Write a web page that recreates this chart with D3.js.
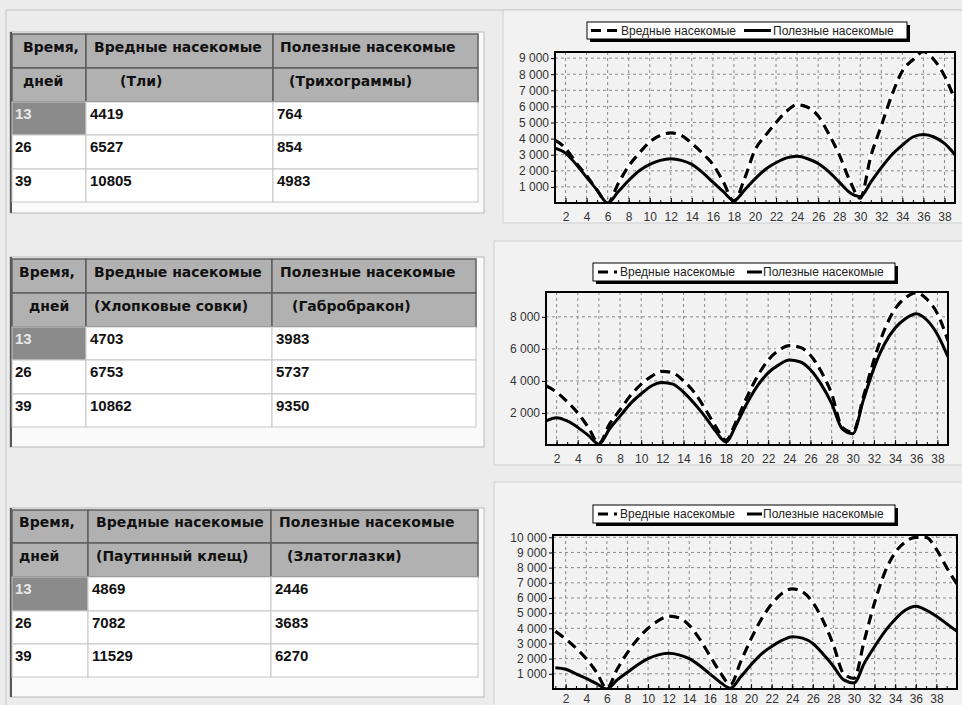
<!DOCTYPE html>
<html>
<head>
<meta charset="utf-8">
<script src="https://cdn.jsdelivr.net/npm/d3@7"></script>
<style>
  body { margin: 0; background: #ececec; }
  svg { display: block; font-family: "Liberation Sans", Arial, sans-serif; }
</style>
</head>
<body>
<div id="svgcontainer"></div>
<script>
// ---- data ----
var days = [1,2,3,4,5,6,7,8,9,10,11,12,13,14,15,16,17,18,19,20,
            21,22,23,24,25,26,27,28,29,30,31,32,33,34,35,36,37,38,39];
var days3 = [1,2,3,4,5,6,7,8,9,10,11,12,13,14,15,16,17,18,19,20,
             21,22,23,24,25,26,27,28,29,30,31,32,33,34,35,36,37,38,39,40];
var xLabels = [2,4,6,8,10,12,14,16,18,20,22,24,26,28,30,32,34,36,38];

var legendNames = ["Вредные насекомые", "Полезные насекомые"];

// chart 1: Тли / Трихограммы
var harm1 = [3900,3400,2500,1700,800,0, 1200,2300,3100,3800,4200,4350,
             4200,3700,3100,2400,1300,100, 1500,3300,4200,5000,5700,6100,
             5950,5400,4300,3000,1400,300, 2900,4800,6700,8200,8900,9400,
             8900,7900,6400];
var ben1  = [3400,3100,2400,1600,800,0, 700,1400,2000,2400,2650,2750,
             2650,2400,1900,1300,700,150, 800,1500,2100,2500,2800,2900,
             2750,2450,1950,1300,650,400, 1300,2200,3000,3600,4100,4250,
             4100,3700,3000];
var yTicks1 = [1000,2000,3000,4000,5000,6000,7000,8000,9000];

// chart 2: Хлопковые совки / Габробракон
var harm2 = [3700,3300,2700,2000,1100,100, 1300,2200,3100,3800,4300,4600,
             4500,4000,3300,2300,1200,300, 1500,3000,4300,5300,5900,6200,
             6100,5600,4600,3200,1100,800, 3000,5300,7200,8500,9200,9500,
             9100,8200,6500];
var ben2  = [1500,1700,1500,1100,600,50, 1000,1800,2600,3200,3700,3900,
             3800,3300,2600,1800,900,200, 1300,2600,3700,4500,5000,5300,
             5200,4700,3800,2600,1000,700, 2800,4800,6300,7300,7900,8200,
             7800,6900,5500];
var yTicks2 = [2000,4000,6000,8000];

// chart 3: Паутинный клещ / Златоглазки
var harm3 = [3800,3300,2700,2000,1100,50, 1300,2400,3300,4000,4500,4800,
             4700,4200,3300,2200,1100,300, 1800,3300,4600,5600,6300,6600,
             6400,5700,4500,2900,1000,700, 3200,5700,7700,9000,9700,10000,
             10000,9200,8000,6900];
var ben3  = [1400,1300,1000,700,350,0, 600,1100,1600,2000,2250,2350,
             2250,2000,1550,1000,450,50, 800,1600,2300,2800,3200,3450,
             3350,3000,2300,1500,600,400, 1700,2800,3800,4600,5200,5450,
             5200,4800,4300,3800];
var yTicks3 = [1000,2000,3000,4000,5000,6000,7000,8000,9000,10000];

// tables
var headTop = ["Время,", "Вредные насекомые", "Полезные насекомые"];
var headSub1 = ["дней", "(Тли)", "(Трихограммы)"];
var headSub2 = ["дней", "(Хлопковые совки)", "(Габробракон)"];
var headSub3 = ["дней", "(Паутинный клещ)", "(Златоглазки)"];
var tableDays = [13, 26, 39];
var tHarm1 = [4419, 6527, 10805], tBen1 = [764, 854, 4983];
var tHarm2 = [4703, 6753, 10862], tBen2 = [3983, 5737, 9350];
var tHarm3 = [4869, 7082, 11529], tBen3 = [2446, 3683, 6270];

// ---- drawing ----
var width = 962, height = 705;
var svg = d3.select("#svgcontainer")
    .append("svg")
    .attr("width", width)
    .attr("height", height);

var ru = d3.formatLocale({decimal: ",", thousands: " ", grouping: [3], currency: ["", ""]});
var fmt = ru.format(",d");

// window frame
svg.append("rect").attr("x", 0).attr("y", 0).attr("width", width).attr("height", height)
  .style("fill", "#ececec");
svg.append("line").attr("x1", 6).attr("y1", 10).attr("x2", width).attr("y2", 10)
  .style("stroke", "#c4c4c4");
svg.append("line").attr("x1", 6).attr("y1", 10).attr("x2", 6).attr("y2", height)
  .style("stroke", "#c4c4c4");

function drawTable(head, sub, vals, L) {
  var g = svg.append("g");
  var c = L.cols, r = L.rows;
  // frame
  g.append("rect")
    .attr("x", c[0] - 2).attr("y", r[0] - 2)
    .attr("width", L.right - c[0] + 2).attr("height", L.bottom - r[0] + 2)
    .style("fill", "#fafafa").style("stroke", "#b8b8b8");
  g.append("line")
    .attr("x1", c[0] - 1).attr("y1", r[0] - 2).attr("x2", c[0] - 1).attr("y2", L.bottom)
    .style("stroke", "#555").style("stroke-width", 2);

  // header cells
  [0, 1].forEach(function(ri) {
    for (var ci = 0; ci < 3; ci++) {
      g.append("rect")
        .attr("x", c[ci]).attr("y", r[ri])
        .attr("width", c[ci + 1] - c[ci]).attr("height", r[ri + 1] - r[ri])
        .style("fill", "#b1b1b1").style("stroke", "#5f5f5f").style("stroke-width", 1.5);
    }
  });
  var hx = L.headX;
  [head, sub].forEach(function(row, ri) {
    row.forEach(function(t, ci) {
      g.append("text")
        .attr("x", hx[ri][ci]).attr("y", L.headY[ri])
        .style("font-family", "'DejaVu Sans', sans-serif")
        .style("font-weight", "bold").style("font-size", "14px")
        .style("fill", "#111")
        .text(t);
    });
  });

  // data cells
  for (var ri = 0; ri < 3; ri++) {
    for (var ci = 0; ci < 3; ci++) {
      var dark = (ri === 0 && ci === 0);
      g.append("rect")
        .attr("x", c[ci]).attr("y", r[ri + 2])
        .attr("width", c[ci + 1] - c[ci]).attr("height", r[ri + 3] - r[ri + 2])
        .style("fill", dark ? "#8b8b8b" : "#ffffff")
        .style("stroke", "#c6c6c6");
      g.append("text")
        .attr("x", c[ci] + (ci === 0 ? 3 : 4)).attr("y", r[ri + 2] + 17)
        .style("font-weight", "bold").style("font-size", "15px")
        .style("fill", dark ? "#e8e8e8" : "#111")
        .text(vals[ci][ri]);
    }
  }
}

drawTable(headTop, headSub1, [tableDays, tHarm1, tBen1], {
  cols: [12, 86, 273, 478], rows: [34, 68, 102, 135, 169, 202],
  right: 484, bottom: 213, headY: [52, 86],
  headX: [[23, 94, 280], [23, 120, 289]]
});
drawTable(headTop, headSub2, [tableDays, tHarm2, tBen2], {
  cols: [12, 86, 272, 476], rows: [259, 293, 327, 360, 394, 427],
  right: 484, bottom: 447, headY: [277, 311],
  headX: [[19, 94, 280], [29, 94, 292]]
});
drawTable(headTop, headSub3, [tableDays, tHarm3, tBen3], {
  cols: [12, 88, 271, 478], rows: [510, 543, 577, 611, 644, 677],
  right: 484, bottom: 697, headY: [527, 561],
  headX: [[19, 96, 279], [19, 96, 287]]
});

function drawDashed(g, d) {
  g.append("path").attr("d", d)
    .style("fill", "none").style("stroke", "#ffffff").style("stroke-width", 6);
  g.append("path").attr("d", d)
    .style("fill", "none").style("stroke", "#000").style("stroke-width", 3.2)
    .style("stroke-dasharray", "10,6");
}

function drawChart(xs, harm, ben, yTicks, L, id) {
  var g = svg.append("g");
  var p = L.plot;
  // panel
  g.append("rect")
    .attr("x", L.panel[0]).attr("y", L.panel[1])
    .attr("width", width - L.panel[0] + 2).attr("height", L.panel[2] - L.panel[1])
    .style("fill", "#f2f2f2").style("stroke", "#cfcfcf");

  var x = d3.scaleLinear().domain(L.xDomain).range([p.left, p.right]);
  var y = d3.scaleLinear().domain(L.yDomain).range([p.bottom, p.top]);

  // grid
  g.selectAll(".vg").data(xLabels).enter().append("line")
    .attr("x1", function(d) { return x(d); }).attr("x2", function(d) { return x(d); })
    .attr("y1", p.top).attr("y2", p.bottom)
    .style("stroke", "#8a8a8a").style("stroke-dasharray", "3,3");
  g.selectAll(".hg").data(yTicks).enter().append("line")
    .attr("x1", p.left).attr("x2", p.right)
    .attr("y1", function(d) { return y(d); }).attr("y2", function(d) { return y(d); })
    .style("stroke", "#8a8a8a").style("stroke-dasharray", "3,3");

  // axes
  var ya = g.append("g").attr("transform", "translate(" + p.left + ",0)")
    .call(d3.axisLeft(y).tickValues(yTicks).tickFormat(fmt).tickSize(4).tickPadding(2));
  var xm = g.append("g").attr("transform", "translate(0," + p.bottom + ")")
    .call(d3.axisBottom(x).tickValues(xs).tickFormat("").tickSize(-3));
  var xa = g.append("g").attr("transform", "translate(0," + p.bottom + ")")
    .call(d3.axisBottom(x).tickValues(xLabels).tickSize(-5).tickPadding(L.xPad));
  [ya, xm, xa].forEach(function(a) {
    a.select(".domain").remove();
    a.selectAll("line").style("stroke", "#000");
    a.selectAll("text").style("font-size", "12px").style("fill", "#333")
      .style("font-family", "'Liberation Sans', Arial, sans-serif");
  });

  // lines
  g.append("clipPath").attr("id", id)
    .append("rect").attr("x", p.left).attr("y", p.top)
    .attr("width", p.right - p.left).attr("height", p.bottom - p.top);
  var lg = g.append("g").attr("clip-path", "url(#" + id + ")");
  var line = d3.line()
    .x(function(d, i) { return x(xs[i]); })
    .y(function(d) { return y(d); })
    .curve(d3.curveMonotoneX);
  drawDashed(lg, line(harm));
  lg.append("path").attr("d", line(ben))
    .style("fill", "none").style("stroke", "#000").style("stroke-width", 3);

  // frame
  g.append("rect").attr("x", p.left).attr("y", p.top)
    .attr("width", p.right - p.left).attr("height", p.bottom - p.top)
    .style("fill", "none").style("stroke", "#000").style("stroke-width", 2);

  // legend
  var lb = L.legend;
  g.append("rect").attr("x", lb.x1 + 3).attr("y", lb.y1 + 3)
    .attr("width", lb.x2 - lb.x1).attr("height", lb.y2 - lb.y1).style("fill", "#000");
  g.append("rect").attr("x", lb.x1).attr("y", lb.y1)
    .attr("width", lb.x2 - lb.x1).attr("height", lb.y2 - lb.y1)
    .style("fill", "#fff").style("stroke", "#000");
  var ly = (lb.y1 + lb.y2) / 2;
  drawDashed(g, "M" + lb.s1[0] + "," + ly + "H" + lb.s1[1]);
  g.append("path").attr("d", "M" + lb.s2[0] + "," + ly + "H" + lb.s2[1])
    .style("stroke", "#000").style("stroke-width", 3);
  g.append("text").attr("x", lb.t1).attr("y", ly + 4)
    .style("font-size", "12px").style("fill", "#222").text(legendNames[0]);
  g.append("text").attr("x", lb.t2).attr("y", ly + 4)
    .style("font-size", "12px").style("fill", "#222").text(legendNames[1]);
}

drawChart(days, harm1, ben1, yTicks1, {
  panel: [503, 10, 223],
  plot: {left: 555, right: 955, top: 52, bottom: 203}, xPad: 9,
  xDomain: [1, 39], yDomain: [0, 9380],
  legend: {x1: 587, x2: 907, y1: 22, y2: 39, s1: [591, 617], s2: [744, 771], t1: 621, t2: 773}
}, "clip1");

drawChart(days, harm2, ben2, yTicks2, {
  panel: [494, 241, 465],
  plot: {left: 546, right: 948, top: 292, bottom: 445}, xPad: 9,
  xDomain: [1, 39], yDomain: [0, 9550],
  legend: {x1: 593, x2: 895, y1: 263, y2: 281, s1: [598, 617], s2: [747, 762], t1: 620, t2: 763}
}, "clip2");

drawChart(days3, harm3, ben3, yTicks3, {
  panel: [494, 482, 720],
  plot: {left: 553, right: 957, top: 535, bottom: 689}, xPad: 5,
  xDomain: [0.77, 40], yDomain: [0, 10150],
  legend: {x1: 593, x2: 895, y1: 505, y2: 523, s1: [598, 617], s2: [747, 762], t1: 620, t2: 763}
}, "clip3");
</script>
</body>
</html>
